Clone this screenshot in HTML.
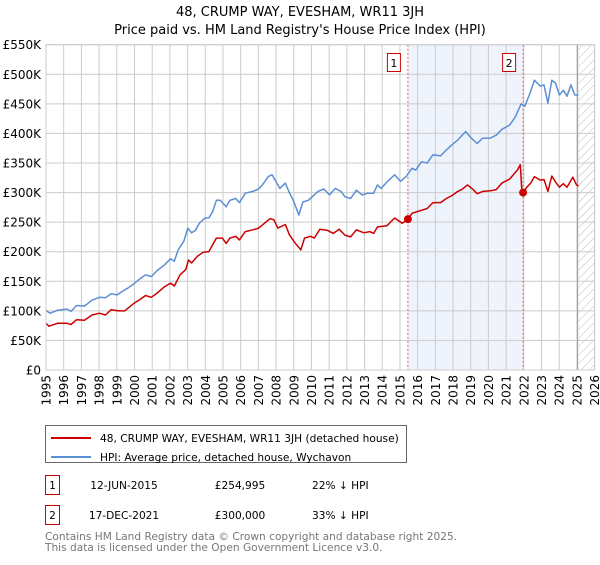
<!DOCTYPE html>
<html><head><meta charset="utf-8"><style>
body{margin:0;background:#fff;font-family:"Liberation Sans","DejaVu Sans",sans-serif}
svg text{font-family:"DejaVu Sans","Liberation Sans",sans-serif}
</style></head><body>
<svg id="c" width="600" height="560" xmlns="http://www.w3.org/2000/svg">
<defs><pattern id="hatch" width="6" height="6" patternUnits="userSpaceOnUse" patternTransform="rotate(45)"><line x1="0" y1="0" x2="0" y2="6" stroke="#bbb" stroke-width="1"/></pattern></defs>
<text x="300" y="16" text-anchor="middle" font-size="13" fill="#000">48, CRUMP WAY, EVESHAM, WR11 3JH</text>
<text x="300" y="34" text-anchor="middle" font-size="13" fill="#000">Price paid vs. HM Land Registry's House Price Index (HPI)</text>
<g id="plot"></g>
<g>
<rect x="45.5" y="425.5" width="361" height="37" fill="#fff" stroke="#666"/>
<line x1="51" y1="438" x2="91" y2="438" stroke="#cc0000" stroke-width="2"/>
<text x="100" y="442" font-size="10.6">48, CRUMP WAY, EVESHAM, WR11 3JH (detached house)</text>
<line x1="51" y1="457" x2="91" y2="457" stroke="#5b8fd4" stroke-width="2"/>
<text x="100" y="461" font-size="10.6">HPI: Average price, detached house, Wychavon</text>
</g>
<g>
<rect x="45.5" y="475.5" width="14" height="19" fill="#fff" stroke="#cc0000"/>
<text x="52.5" y="489" font-size="10.6" text-anchor="middle">1</text>
<text x="124" y="489" font-size="10.6" text-anchor="middle">12-JUN-2015</text>
<text x="240" y="489" font-size="10.6" text-anchor="middle">£254,995</text>
<text x="312" y="489" font-size="10.6">22% ↓ HPI</text>
<rect x="45.5" y="505.5" width="14" height="19" fill="#fff" stroke="#cc0000"/>
<text x="52.5" y="519" font-size="10.6" text-anchor="middle">2</text>
<text x="124" y="519" font-size="10.6" text-anchor="middle">17-DEC-2021</text>
<text x="240" y="519" font-size="10.6" text-anchor="middle">£300,000</text>
<text x="312" y="519" font-size="10.6">33% ↓ HPI</text>
</g>
<text x="45" y="540" font-size="10.6" fill="#777">Contains HM Land Registry data © Crown copyright and database right 2025.</text>
<text x="45" y="551" font-size="10.6" fill="#777">This data is licensed under the Open Government Licence v3.0.</text>
</svg>
<script>
const hpiYears=[1995.00,1995.22,1995.65,1996.19,1996.41,1996.73,1997.17,1997.60,1998.03,1998.36,1998.68,1999.01,1999.33,1999.65,1999.98,2000.30,2000.63,2000.95,2001.28,2001.71,2002.04,2002.25,2002.47,2002.79,2003.01,2003.23,2003.44,2003.66,2003.98,2004.20,2004.42,2004.63,2004.85,2005.18,2005.39,2005.72,2005.93,2006.26,2006.69,2007.02,2007.23,2007.56,2007.77,2007.99,2008.21,2008.53,2008.75,2008.96,2009.29,2009.51,2009.83,2010.05,2010.37,2010.70,2011.02,2011.35,2011.67,2011.89,2012.21,2012.54,2012.86,2013.19,2013.51,2013.73,2013.94,2014.27,2014.70,2015.03,2015.35,2015.68,2015.89,2016.22,2016.54,2016.87,2017.30,2017.62,2017.95,2018.27,2018.71,2019.03,2019.36,2019.68,2020.11,2020.44,2020.76,2021.20,2021.52,2021.85,2022.06,2022.39,2022.60,2022.93,2023.14,2023.36,2023.58,2023.79,2024.01,2024.23,2024.44,2024.66,2024.88,2025.09];
const hpiValues=[101,96,101,103,99,109,108,118,123,122,129,127,133,139,146,154,161,158,168,178,188,184,203,218,240,232,236,248,257,257,268,287,287,276,287,290,283,299,302,306,313,327,330,319,307,316,300,288,262,284,287,293,302,306,296,307,302,293,290,304,296,299,299,313,307,318,330,319,327,341,338,352,350,364,362,372,381,389,403,392,383,392,392,397,407,414,428,450,446,471,490,480,482,451,490,485,465,473,463,482,465,465];
const priceYears=[1995.00,1995.17,1995.65,1996.19,1996.41,1996.73,1997.17,1997.60,1998.03,1998.36,1998.68,1999.11,1999.44,1999.98,2000.30,2000.63,2000.95,2001.28,2001.71,2002.04,2002.25,2002.58,2002.90,2003.05,2003.23,2003.55,2003.88,2004.20,2004.42,2004.63,2004.96,2005.18,2005.39,2005.72,2005.93,2006.26,2006.69,2007.02,2007.34,2007.67,2007.88,2008.10,2008.53,2008.75,2009.07,2009.40,2009.61,2009.94,2010.16,2010.48,2010.91,2011.24,2011.56,2011.89,2012.21,2012.54,2012.97,2013.29,2013.51,2013.73,2014.05,2014.27,2014.70,2015.13,2015.46,2015.68,2016.00,2016.22,2016.54,2016.87,2017.30,2017.62,2017.95,2018.27,2018.49,2018.82,2019.14,2019.36,2019.68,2020.11,2020.44,2020.76,2021.20,2021.63,2021.80,2021.89,2021.96,2022.17,2022.39,2022.60,2022.93,2023.14,2023.36,2023.58,2023.79,2024.01,2024.23,2024.44,2024.77,2024.98,2025.09];
const priceValues=[79,74,79,79,77,85,84,93,96,93,102,100,100,113,119,126,123,130,141,147,142,161,170,186,181,192,199,200,212,223,223,214,223,226,220,234,237,240,248,256,254,240,246,229,215,203,223,226,223,238,236,231,238,228,225,237,232,234,231,242,243,244,257,248,255,265,268,270,273,283,283,290,295,302,305,313,305,298,302,303,305,316,323,338,347,302,300,309,316,327,321,322,302,328,318,309,315,309,326,313,311];
const saleYears=[2015.45,2021.96];
const saleValues=[254.995,300];
const saleLabels=["1","2"];
const yTicks=[0,50,100,150,200,250,300,350,400,450,500,550];
const yTickLabels=["£0","£50K","£100K","£150K","£200K","£250K","£300K","£350K","£400K","£450K","£500K","£550K"];
const xTicks=[1995,1996,1997,1998,1999,2000,2001,2002,2003,2004,2005,2006,2007,2008,2009,2010,2011,2012,2013,2014,2015,2016,2017,2018,2019,2020,2021,2022,2023,2024,2025,2026];

const NS="http://www.w3.org/2000/svg";
const L=46,R=594.6,T=44.7,B=370;
const X0=1995,X1=2026,Y1=550;
const sx=v=>L+(v-X0)/(X1-X0)*(R-L);
const sy=v=>B-v/Y1*(B-T);
const g=document.getElementById('plot');
function mk(tag,attrs){const e=document.createElementNS(NS,tag);for(const k in attrs)e.setAttribute(k,attrs[k]);g.appendChild(e);return e;}

let e=mk('rect',{x:sx(saleYears[0]),y:T,width:sx(saleYears[1])-sx(saleYears[0]),height:B-T,fill:'#eef3fc'});


const hs=2025.1;
e=mk('rect',{x:sx(hs),y:T,width:R-sx(hs),height:B-T,fill:'url(#hatch)'});


yTicks.forEach((v,i)=>{
  let l=mk('line',{x1:L,x2:R,y1:sy(v),y2:sy(v),stroke:'#ccc','stroke-width':1});
  
  
  let t=mk('text',{x:L-5,y:sy(v)+4.5,'text-anchor':'end','font-size':12,fill:'#000'});
  t.textContent=yTickLabels[i];
  
  
});
xTicks.forEach(v=>{
  let l=mk('line',{x1:sx(v),x2:sx(v),y1:T,y2:B,stroke:'#ccc','stroke-width':1});
  
  
  let t=mk('text',{x:0,y:0,'text-anchor':'end','font-size':12,fill:'#000',transform:`translate(${sx(v)+4.5},${B+5}) rotate(-90)`});
  t.textContent=v;
  
  
});
e=mk('line',{x1:sx(hs)-1,x2:sx(hs)-1,y1:T,y2:B,stroke:'#999','stroke-width':1});


saleYears.forEach(y=>{
  let l=mk('line',{x1:sx(y),x2:sx(y),y1:T,y2:B,stroke:'#e06666','stroke-width':1,'stroke-dasharray':'2,2'});
  
  
});
function path(xs,ys,col,name){
  const d=xs.map((x,i)=>(i?'L':'M')+sx(x).toFixed(1)+','+sy(ys[i]).toFixed(1)).join('');
  const p=mk('path',{d:d,fill:'none',stroke:col,'stroke-width':1.5,'stroke-linejoin':'round'});
  
  
}
path(hpiYears,hpiValues,'#5b8fd4','hpi-line');
path(priceYears,priceValues,'#cc0000','price-paid-line');
saleYears.forEach((y,i)=>{
  let c=mk('circle',{cx:sx(y),cy:sy(saleValues[i]),r:4,fill:'#cc0000'});
  
  
  let r=mk('rect',{x:sx(y)-20.5,y:53.5,width:13,height:18,fill:'#fff',stroke:'#cc0000'});
  
  
  let t=mk('text',{x:sx(y)-14,y:67,'text-anchor':'middle','font-size':11});
  t.textContent=saleLabels[i];
  
  
});
e=mk('rect',{x:L,y:T,width:R-L,height:B-T,fill:'none',stroke:'#ccc'});


</script>
</body></html>
